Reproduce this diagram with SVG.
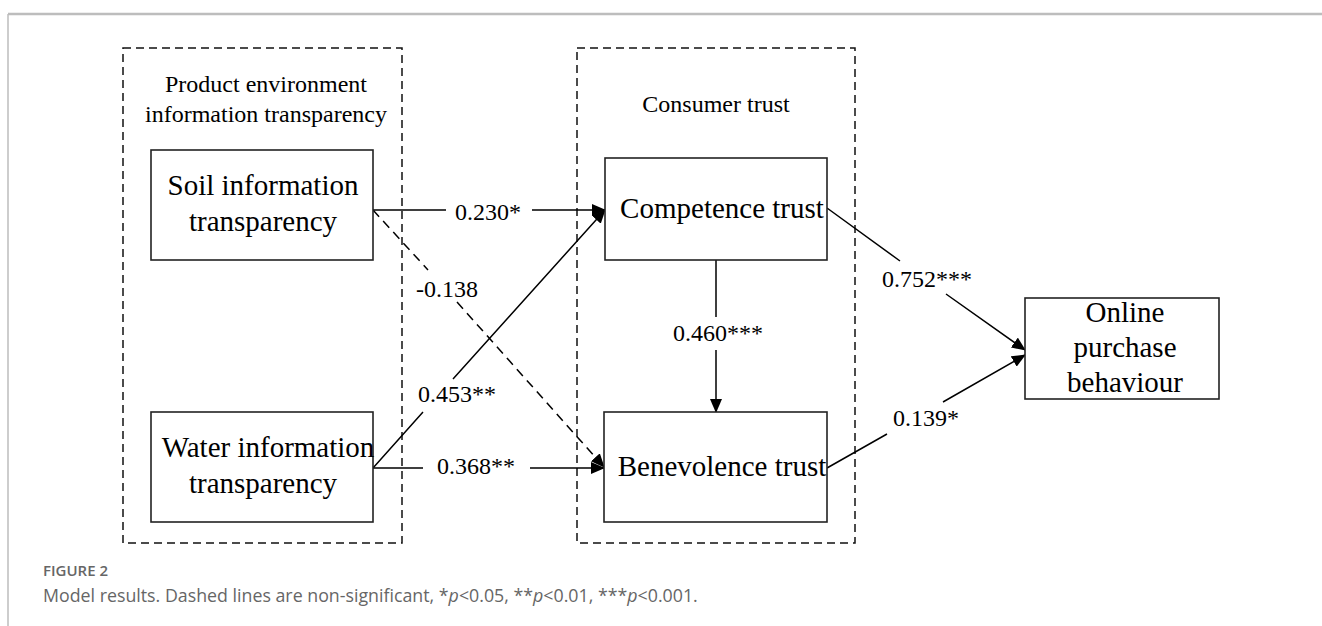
<svg xmlns="http://www.w3.org/2000/svg" width="1322" height="626" viewBox="0 0 1322 626">
<defs>
<style>
.frame{fill:none;stroke:#bdbdbd}
.group{fill:none;stroke:#111;stroke-width:1.5;stroke-dasharray:8 5}
.box{fill:#fff;stroke:#222;stroke-width:1.6}
.t{font-family:"Liberation Serif","Times New Roman",serif;fill:#000;text-anchor:middle}
.gt{font-size:24px}
.nt{font-size:29px}
.lt{font-size:24px}
.edge{fill:none;stroke:#000;stroke-width:1.5}
.dash{stroke-dasharray:9 6}
.cap{font-family:"Open Sans","Liberation Sans",sans-serif;fill:#666}
</style>
<marker id="arr" markerUnits="userSpaceOnUse" markerWidth="14" markerHeight="12" viewBox="0 0 14 12" refX="13" refY="6" orient="auto">
<path d="M0,0 L14,6 L0,12 Z" fill="#000"/>
</marker>
</defs>
<rect width="1322" height="626" fill="#fff"/>
<line class="frame" x1="8" y1="14" x2="1322" y2="14" stroke-width="2.5"/>
<line class="frame" x1="8" y1="14" x2="8" y2="626" stroke-width="1.5"/>

<g id="group-product-environment">
<rect class="group" x="123" y="48" width="279" height="495"/>
<text class="t gt" x="266" y="92">Product environment</text>
<text class="t gt" x="266" y="122">information transparency</text>
</g>
<g id="group-consumer-trust">
<rect class="group" x="577" y="48" width="278" height="495"/>
<text class="t gt" x="716" y="112">Consumer trust</text>
</g>

<g id="connectors">
<path class="edge" d="M373,210 L446,210 M532,210 L605,210" marker-end="url(#arr)"/>
<path class="edge dash" d="M373,210 L428,270 M457,302 L604,467" marker-end="url(#arr)"/>
<path class="edge" d="M373,468 L423,412 M453,379 L605,210" marker-end="url(#arr)"/>
<path class="edge" d="M373,468 L423,468 M530,468 L604,468" marker-end="url(#arr)"/>
<path class="edge" d="M716,260 L716,317 M716,350 L716,412" marker-end="url(#arr)"/>
<path class="edge" d="M827,208 L900,261 M946,294 L1025,350" marker-end="url(#arr)"/>
<path class="edge" d="M827,468 L887,434 M943,402 L1025,355" marker-end="url(#arr)"/>
<text class="t lt" x="488" y="220">0.230*</text>
<text class="t lt" x="447" y="297">-0.138</text>
<text class="t lt" x="457" y="402">0.453**</text>
<text class="t lt" x="476" y="474">0.368**</text>
<text class="t lt" x="718" y="341">0.460***</text>
<text class="t lt" x="927" y="287">0.752***</text>
<text class="t lt" x="926" y="426">0.139*</text>
</g>

<g id="node-soil">
<rect class="box" x="151" y="150" width="222" height="110"/>
<text class="t nt" x="263" y="195">Soil information</text>
<text class="t nt" x="263" y="231">transparency</text>
</g>
<g id="node-water">
<rect class="box" x="151" y="412" width="222" height="110"/>
<text class="t nt" x="268" y="457">Water information</text>
<text class="t nt" x="263" y="493">transparency</text>
</g>
<g id="node-competence">
<rect class="box" x="605" y="158" width="222" height="102"/>
<text class="t nt" x="722" y="218">Competence trust</text>
</g>
<g id="node-benevolence">
<rect class="box" x="604" y="412" width="223" height="110"/>
<text class="t nt" x="722" y="476">Benevolence trust</text>
</g>
<g id="node-online">
<rect class="box" x="1025" y="298" width="194" height="101"/>
<text class="t nt" x="1125" y="322">Online</text>
<text class="t nt" x="1125" y="357">purchase</text>
<text class="t nt" x="1125" y="392">behaviour</text>
</g>

<text class="cap" x="43" y="576" font-size="15" font-weight="600">FIGURE 2</text>
<text class="cap" x="43" y="602" font-size="17.8">Model results. Dashed lines are non-significant, *<tspan font-style="italic">p</tspan>&lt;0.05, **<tspan font-style="italic">p</tspan>&lt;0.01, ***<tspan font-style="italic">p</tspan>&lt;0.001.</text>
</svg>
